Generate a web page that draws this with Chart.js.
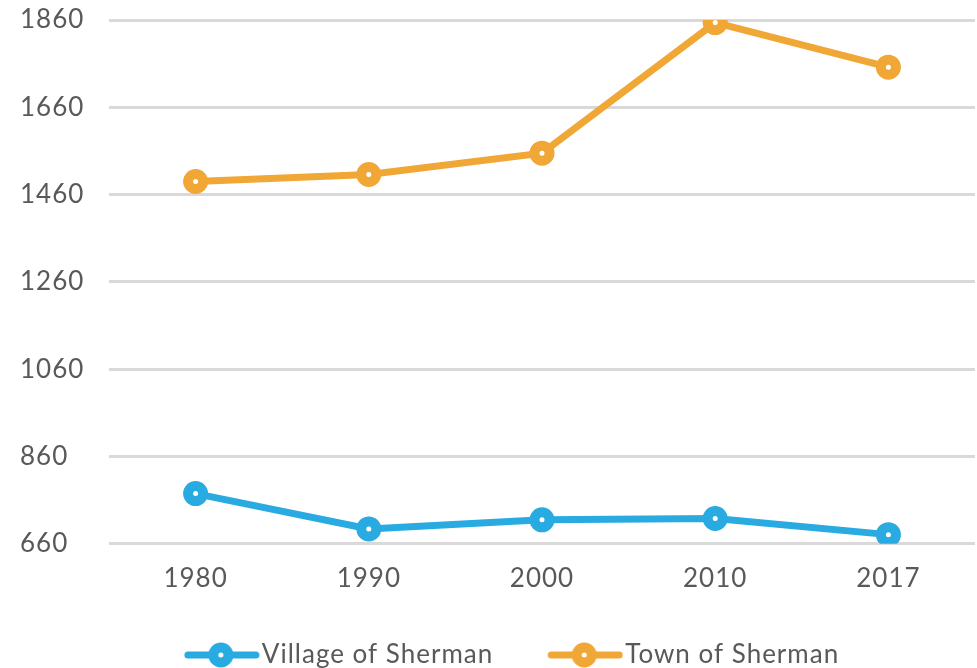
<!DOCTYPE html>
<html>
<head>
<meta charset="utf-8">
<script src="https://cdn.jsdelivr.net/npm/chart.js@4"></script>
<style>
  html, body { margin: 0; padding: 0; background: #fff; }
  #wrap { width: 977px; height: 668px; }
</style>
</head>
<body>
<div id="wrap"><canvas id="myChart" width="977" height="668"></canvas></div>
<script>
let years = ['1980', '1990', '2000', '2010', '2017']
let village = [775, 694, 715, 718, 681]
let town = [1490, 1506, 1555, 1854, 1752]
let yMin = 660
let yMax = 1860
let yStep = 200

let blue = '#29abe2'
let orange = '#f1a736'
let textColor = '#595959'
let fontName = 'Lato, "Open Sans", sans-serif'

// legend icon: line with the marker on it, padded on the left
function legendIcon(color) {
    let c = document.createElement('canvas')
    c.width = 141
    c.height = 28
    let g = c.getContext('2d')
    let x0 = 141 - 76
    g.strokeStyle = color
    g.lineWidth = 7
    g.lineCap = 'round'
    g.beginPath()
    g.moveTo(x0 + 4, 14)
    g.lineTo(141 - 4, 14)
    g.stroke()
    g.beginPath()
    g.arc(x0 + 37, 14, 7.5, 0, Math.PI * 2)
    g.fillStyle = '#fff'
    g.fill()
    g.lineWidth = 10
    g.stroke()
    return c
}

let icons = [legendIcon(blue), legendIcon(orange)]

// a bit of letter spacing so Lato takes up the room of the original font
let spacing = {
    id: 'spacing',
    beforeUpdate: chart => { chart.ctx.letterSpacing = '1px' },
    beforeDraw: chart => { chart.ctx.letterSpacing = '1px' }
}

// legend sits a little left of the canvas centre
let legendShift = {
    id: 'legendShift',
    afterLayout: chart => {
        chart.legend.left -= 13
        chart.legend.right -= 13
    }
}

new Chart(document.getElementById('myChart'), {
    type: 'line',
    data: {
        labels: years,
        datasets: [{
            label: 'Village of Sherman',
            data: village,
            borderColor: blue,
            backgroundColor: '#fff',
            borderWidth: 7,
            pointRadius: 7.5,
            pointBorderWidth: 10,
            pointHoverRadius: 7.5,
            tension: 0
        }, {
            label: 'Town of Sherman',
            data: town,
            borderColor: orange,
            backgroundColor: '#fff',
            borderWidth: 7,
            pointRadius: 7.5,
            pointBorderWidth: 10,
            pointHoverRadius: 7.5,
            tension: 0
        }]
    },
    plugins: [spacing, legendShift],
    options: {
        responsive: false,
        animation: false,
        layout: { autoPadding: false, padding: { left: 20, top: 20, right: 2, bottom: -10 } },
        plugins: {
            tooltip: { enabled: false },
            legend: {
                position: 'bottom',
                labels: {
                    usePointStyle: true,
                    pointStyleWidth: 119,
                    padding: 0,
                    color: textColor,
                    font: { family: fontName, size: 26 },
                    generateLabels: chart => chart.data.datasets.map((ds, i) => ({
                        text: ds.label,
                        pointStyle: icons[i],
                        fontColor: textColor,
                        lineWidth: 0,
                        strokeStyle: 'transparent',
                        fillStyle: 'transparent',
                        datasetIndex: i
                    }))
                }
            }
        },
        scales: {
            x: {
                offset: true,
                grid: { display: false },
                border: { display: false },
                afterFit: s => { s.height += 37 },
                ticks: {
                    color: textColor,
                    padding: 11,
                    font: { family: fontName, size: 26 }
                }
            },
            y: {
                min: yMin,
                max: yMax,
                border: { display: false },
                grid: { color: '#d9d9d9', lineWidth: 3, tickLength: 0 },
                afterFit: s => { s.width = 89 },
                ticks: {
                    stepSize: yStep,
                    color: textColor,
                    padding: 0,
                    crossAlign: 'far',
                    font: { family: fontName, size: 26 },
                    callback: v => String(v)
                }
            }
        }
    }
})
</script>
</body>
</html>
